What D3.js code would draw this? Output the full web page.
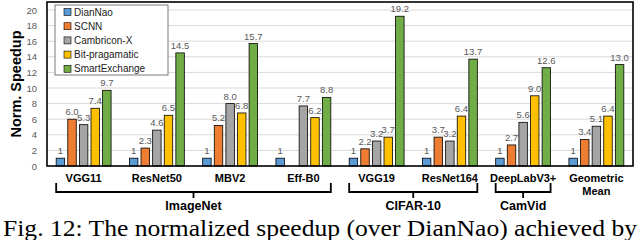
<!DOCTYPE html>
<html lang="en">
<head>
<meta charset="utf-8">
<script src="https://cdn.jsdelivr.net/npm/d3@7/dist/d3.min.js"></script>
<style>
  body { margin: 0; background: #fff; }
  svg { display: block; }
</style>
</head>
<body>
<div id="chart"></div>
<script>
// chart data
const categories = ["VGG11", "ResNet50", "MBV2", "Eff-B0", "VGG19", "ResNet164", "DeepLabV3+", "Geometric Mean"];
const series = ["DianNao", "SCNN", "Cambricon-X", "Bit-pragamatic", "SmartExchange"];
const dianNao      = [1, 1, 1, 1, 1, 1, 1, 1];
const scnn         = [6.0, 2.3, 5.2, null, 2.2, 3.7, 2.7, 3.4];
const cambriconX   = [5.3, 4.6, 8.0, 7.7, 3.2, 3.2, 5.6, 5.1];
const bitPragmatic = [7.4, 6.5, 6.8, 6.2, 3.7, 6.4, 9.0, 6.4];
const smartExchange = [9.7, 14.5, 15.7, 8.8, 19.2, 13.7, 12.6, 13.0];
const yTicks = [0, 2, 4, 6, 8, 10, 12, 14, 16, 18, 20];
const datasets = [
  { name: "ImageNet", from: "VGG11", to: "Eff-B0" },
  { name: "CIFAR-10", from: "VGG19", to: "ResNet164" },
  { name: "CamVid", from: "DeepLabV3+", to: "DeepLabV3+" }
];
const colors = ["#5B9BD5", "#ED7D31", "#A5A5A5", "#FFC000", "#70AD47"];
const caption = "Fig. 12: The normalized speedup (over DianNao) achieved by";

const valuesBySeries = [dianNao, scnn, cambriconX, bitPragmatic, smartExchange];

const W = 640, H = 240;
const plot = { left: 47, right: 633, top: 2, bottom: 166 };

const svg = d3.select("#chart").append("svg")
  .attr("width", W).attr("height", H)
  .style("font-family", "Arial, 'Liberation Sans', sans-serif");

const x0 = d3.scaleBand().domain(categories).range([plot.left, plot.right]).paddingInner(0).paddingOuter(0);
const x1 = d3.scaleBand().domain(series).range([0, x0.bandwidth()]).paddingInner(0.27).paddingOuter(0.79);
const y = d3.scaleLinear().domain([0, 20]).range([plot.bottom, 10]);

// gridlines
svg.append("g")
  .selectAll("line")
  .data(yTicks.filter(d => d > 0))
  .join("line")
  .attr("x1", plot.left).attr("x2", plot.right)
  .attr("y1", d => y(d)).attr("y2", d => y(d))
  .attr("stroke", "#d9d9d9").attr("stroke-width", 1);

// y axis labels
const yAxis = svg.append("g")
  .attr("transform", "translate(" + plot.left + ",0)")
  .call(d3.axisLeft(y).tickValues(yTicks).tickSize(0).tickPadding(10));
yAxis.select(".domain").remove();
yAxis.selectAll("text")
  .attr("fill", "#595959")
  .style("font-size", "9.5px")
  .style("font-family", "Arial, 'Liberation Sans', sans-serif");

svg.append("text")
  .attr("transform", "translate(21,84) rotate(-90)")
  .attr("text-anchor", "middle")
  .style("font-size", "14.5px")
  .style("font-weight", "bold")
  .text("Norm. Speedup");

// bars
const rows = [];
categories.forEach((c, i) => {
  series.forEach((s, j) => {
    const v = valuesBySeries[j][i];
    if (v !== null) rows.push({ cat: c, ser: s, idx: j, value: v });
  });
});

const bars = svg.append("g");
bars.selectAll("rect")
  .data(rows)
  .join("rect")
  .attr("x", d => x0(d.cat) + x1(d.ser))
  .attr("y", d => y(d.value))
  .attr("width", x1.bandwidth())
  .attr("height", d => y(0) - y(d.value))
  .attr("fill", d => colors[d.idx])
  .attr("stroke", "#000")
  .attr("stroke-width", 0.8);

bars.selectAll("text")
  .data(rows)
  .join("text")
  .attr("x", d => x0(d.cat) + x1(d.ser) + x1.bandwidth() / 2)
  .attr("y", d => y(d.value) - 4)
  .attr("text-anchor", "middle")
  .attr("fill", "#595959")
  .style("font-size", "9.5px")
  .text(d => d.idx === 0 ? "1" : d.value.toFixed(1));

// plot border
svg.append("rect")
  .attr("x", plot.left).attr("y", plot.top)
  .attr("width", plot.right - plot.left).attr("height", plot.bottom - plot.top)
  .attr("fill", "none").attr("stroke", "#000").attr("stroke-width", 1.6);

// category labels
const catG = svg.append("g");
categories.forEach(c => {
  const t = catG.append("text")
    .attr("x", x0(c) + x0.bandwidth() / 2)
    .attr("y", 182)
    .attr("text-anchor", "middle")
    .style("font-size", "11px")
    .style("font-weight", "bold");
  const parts = c === "Geometric Mean" ? ["Geometric", "Mean"] : [c];
  parts.forEach((p, k) => {
    t.append("tspan").attr("x", x0(c) + x0.bandwidth() / 2).attr("dy", k === 0 ? 0 : 13).text(p);
  });
});

// dataset brackets
const brG = svg.append("g");
datasets.forEach(ds => {
  const a = x0(ds.from) + x1("DianNao");
  const b = x0(ds.to) + x1("SmartExchange") + x1.bandwidth();
  const mid = (a + b) / 2;
  brG.append("path")
    .attr("d", "M" + a + ",183V192H" + b + "V183M" + mid + ",192V198")
    .attr("fill", "none").attr("stroke", "#000").attr("stroke-width", 1.8);
  brG.append("text")
    .attr("x", mid).attr("y", 210)
    .attr("text-anchor", "middle")
    .style("font-size", "12.5px")
    .style("font-weight", "bold")
    .text(ds.name);
});

// legend
const lg = svg.append("g");
lg.append("rect")
  .attr("x", 55).attr("y", 5).attr("width", 113).attr("height", 70)
  .attr("fill", "#fff").attr("stroke", "#595959").attr("stroke-width", 0.8);
series.forEach((s, j) => {
  const yy = 12 + j * 14.2;
  lg.append("rect")
    .attr("x", 64).attr("y", yy - 3.5).attr("width", 7).attr("height", 7)
    .attr("fill", colors[j]).attr("stroke", "#000").attr("stroke-width", 0.6);
  lg.append("text")
    .attr("x", 74).attr("y", yy + 3.5)
    .attr("fill", "#222")
    .style("font-size", "10px")
    .text(s);
});

// caption
svg.append("text")
  .attr("x", 3).attr("y", 236)
  .attr("textLength", 634)
  .attr("lengthAdjust", "spacingAndGlyphs")
  .style("font-family", "'Liberation Serif', serif")
  .style("font-size", "23px")
  .text(caption);
</script>
</body>
</html>
